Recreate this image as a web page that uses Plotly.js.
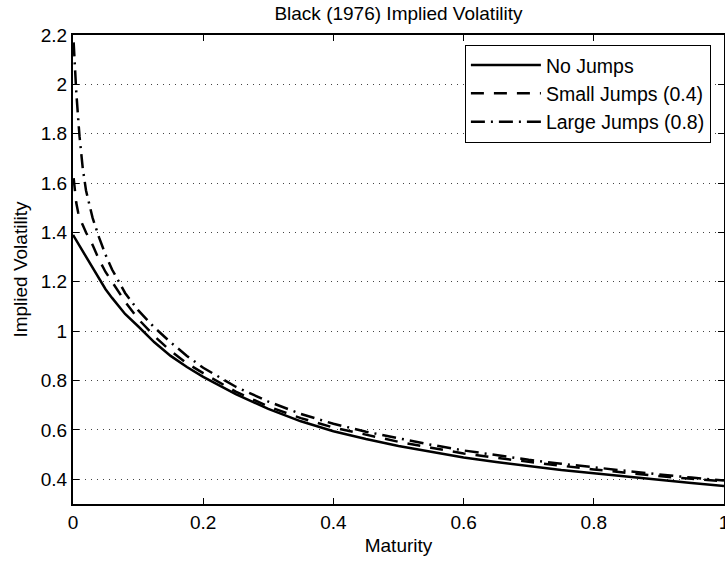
<!DOCTYPE html>
<html>
<head>
<meta charset="utf-8">
<script src="https://cdn.plot.ly/plotly-3.0.1.min.js"></script>
<style>html,body{margin:0;padding:0;background:#fff;}#chart{width:725px;height:561px;}</style>
</head>
<body>
<div id="chart"></div>
<script>
// Maturities
const tNoJumps = [0, 0.01, 0.02, 0.03, 0.04, 0.05, 0.06, 0.08, 0.1, 0.125, 0.15, 0.175, 0.2, 0.25, 0.3, 0.35, 0.4, 0.45, 0.5, 0.55, 0.6, 0.65, 0.7, 0.75, 0.8, 0.85, 0.9, 0.95, 1.0];
const tJumps = [0.001, 0.003, 0.005, 0.008, 0.01, 0.015, 0.02, 0.03, 0.04, 0.05, 0.06, 0.08, 0.1, 0.125, 0.15, 0.175, 0.2, 0.25, 0.3, 0.35, 0.4, 0.45, 0.5, 0.55, 0.6, 0.65, 0.7, 0.75, 0.8, 0.85, 0.9, 0.95, 1.0];

// Implied volatilities
const volNoJumps = [1.39, 1.345, 1.30, 1.255, 1.21, 1.17, 1.135, 1.07, 1.02, 0.955, 0.90, 0.855, 0.815, 0.745, 0.685, 0.635, 0.595, 0.563, 0.535, 0.51, 0.488, 0.47, 0.453, 0.438, 0.425, 0.411, 0.398, 0.385, 0.373];
const volSmallJumps = [1.62, 1.56, 1.52, 1.48, 1.46, 1.43, 1.40, 1.35, 1.29, 1.24, 1.20, 1.12, 1.05, 0.98, 0.92, 0.87, 0.83, 0.755, 0.695, 0.648, 0.61, 0.58, 0.552, 0.528, 0.505, 0.487, 0.47, 0.455, 0.44, 0.426, 0.413, 0.402, 0.392];
const volLargeJumps = [2.17, 2.05, 1.97, 1.86, 1.79, 1.66, 1.57, 1.46, 1.38, 1.31, 1.25, 1.155, 1.085, 1.015, 0.955, 0.90, 0.852, 0.775, 0.715, 0.665, 0.625, 0.593, 0.565, 0.54, 0.517, 0.497, 0.479, 0.463, 0.448, 0.434, 0.42, 0.407, 0.395];

const seriesNames = ["No Jumps", "Small Jumps (0.4)", "Large Jumps (0.8)"];

// Tick labels
const xTickVals = [0, 0.2, 0.4, 0.6, 0.8, 1];
const xTickText = ["0", "0.2", "0.4", "0.6", "0.8", "1"];
const yTickVals = [0.4, 0.6, 0.8, 1, 1.2, 1.4, 1.6, 1.8, 2, 2.2];
const yTickText = ["0.4", "0.6", "0.8", "1", "1.2", "1.4", "1.6", "1.8", "2", "2.2"];

const FONT = "Liberation Sans, Arial, Helvetica, sans-serif";

const traces = [
  {x: tNoJumps, y: volNoJumps, name: seriesNames[0], type: "scatter", mode: "lines",
   line: {color: "#000", width: 2.5, dash: "solid"}},
  {x: tJumps, y: volSmallJumps, name: seriesNames[1], type: "scatter", mode: "lines",
   line: {color: "#000", width: 2.5, dash: "13px,10px"}},
  {x: tJumps, y: volLargeJumps, name: seriesNames[2], type: "scatter", mode: "lines",
   line: {color: "#000", width: 2.5, dash: "14px,6px,2px,6px"}}
];

const axisCommon = {
  showline: true, linecolor: "#000", linewidth: 2, mirror: "ticks",
  ticks: "inside", ticklen: 6, tickwidth: 1, tickcolor: "#000",
  zeroline: false, ticklabeloverflow: "allow",
  tickfont: {family: FONT, size: 19, color: "#000"}
};

const layout = {
  width: 725, height: 561,
  margin: {l: 73, r: 1, t: 35, b: 57},
  paper_bgcolor: "#fff", plot_bgcolor: "#fff",
  font: {family: FONT, size: 19, color: "#000"},
  title: {text: "Black (1976) Implied Volatility", font: {family: FONT, size: 19, color: "#000"},
          x: 0.5, xref: "paper", y: 1 - 13/561, yref: "container", yanchor: "middle"},
  xaxis: Object.assign({}, axisCommon, {
    range: [0, 1], tickvals: xTickVals, ticktext: xTickText, showgrid: false,
    title: {text: "Maturity", font: {family: FONT, size: 19, color: "#000"}, standoff: 7}
  }),
  yaxis: Object.assign({}, axisCommon, {
    range: [0.3, 2.2], tickvals: yTickVals, ticktext: yTickText,
    showgrid: true, gridcolor: "#444", gridwidth: 1, griddash: "1px,5px",
    title: {text: "Implied Volatility", font: {family: FONT, size: 19, color: "#000"}, standoff: 8}
  }),
  legend: {x: 0.602, y: 0.979, xanchor: "left", yanchor: "top",
           bgcolor: "#fff", bordercolor: "#000", borderwidth: 1,
           font: {family: FONT, size: 19.5, color: "#000"}, itemwidth: 70},
  showlegend: true
};

Plotly.newPlot("chart", traces, layout, {staticPlot: true, displayModeBar: false});
</script>
</body>
</html>
